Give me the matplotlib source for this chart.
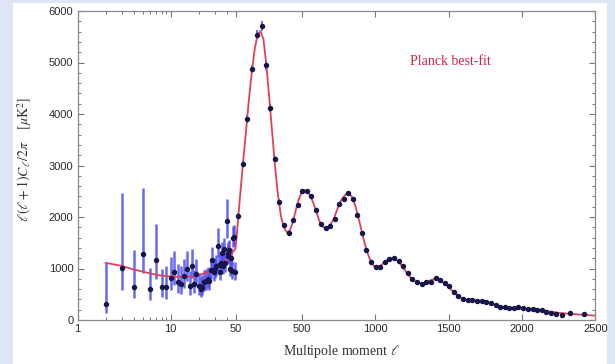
import numpy as np
import matplotlib
matplotlib.use("Agg")
import matplotlib.pyplot as plt
from matplotlib.patches import Rectangle
from matplotlib.ticker import FixedLocator, MultipleLocator

# low-l points (l = 2..49) with asymmetric error bars
ell_lo = list(range(2, 50))
D_lo = [305, 1005, 650, 1290, 605, 1170, 650, 650, 810, 935,
        730, 700, 850, 990, 660, 1050, 700, 890, 660, 600,
        650, 740, 760, 790, 750, 970, 1160, 930, 990, 1040,
        1430, 1070, 940, 1110, 1300, 1050, 1380, 1100, 1930, 1250,
        1300, 1350, 1000, 1200, 950, 1600, 1620, 930]
err_lo_down = [160, 420, 230, 380, 215, 380, 210, 240, 230, 250,
               200, 200, 220, 230, 180, 230, 180, 200, 170, 150,
               160, 170, 170, 170, 160, 180, 200, 170, 170, 180,
               200, 170, 160, 170, 180, 160, 180, 160, 330, 170,
               170, 170, 150, 160, 150, 180, 180, 150]
err_lo_up = [800, 1460, 710, 1280, 400, 700, 340, 400, 420, 400,
             360, 340, 330, 350, 300, 330, 280, 300, 260, 240,
             230, 240, 230, 230, 220, 230, 250, 220, 220, 220,
             350, 210, 200, 210, 220, 200, 220, 200, 420, 210,
             210, 210, 190, 200, 190, 220, 220, 190]

# binned high-l points
ell_hi = [69, 101, 131, 163, 195, 227, 259, 287, 318, 348,
          382, 412, 441, 473, 505, 537, 567, 599, 631, 663,
          694, 725, 756, 786, 817, 848, 880, 909, 941, 973,
          1003, 1035, 1067, 1096, 1128, 1160, 1190, 1222, 1254, 1286,
          1318, 1348, 1380, 1412, 1441, 1473, 1505, 1537, 1567, 1599,
          1631, 1663, 1693, 1725, 1757, 1789, 1821, 1850, 1882, 1915,
          1947, 1976, 2008, 2040, 2072, 2102, 2134, 2166, 2198, 2230,
          2270, 2324, 2423]
D_hi = [2019, 3036, 3903, 4874, 5540, 5709, 4945, 4123, 3126, 2291,
        1838, 1696, 1935, 2239, 2511, 2498, 2401, 2129, 1858, 1786,
        1825, 1968, 2252, 2350, 2472, 2350, 2039, 1689, 1366, 1120,
        1023, 1036, 1133, 1184, 1210, 1146, 1049, 906, 796, 744,
        693, 744, 744, 809, 783, 725, 667, 550, 472, 408,
        382, 382, 375, 375, 356, 324, 285, 259, 252, 233,
        239, 246, 227, 220, 214, 201, 188, 162, 136, 110,
        104, 129, 110]
err_hi = [50, 60, 70, 80, 90, 100, 90, 80, 60, 50,
          40, 40, 40, 40, 40, 40, 40, 40, 35, 35,
          35, 35, 35, 35, 35, 35, 35, 35, 30, 30,
          30, 30, 30, 30, 30, 30, 30, 30, 30, 30,
          25, 25, 25, 25, 25, 25, 25, 25, 25, 25,
          25, 25, 25, 25, 25, 25, 25, 25, 25, 25,
          25, 25, 25, 25, 25, 25, 25, 25, 25, 25,
          25, 25, 25]

# best-fit curve
ell_fit = [2, 3, 4, 5, 6, 7, 8, 10, 12, 15, 18, 20, 25, 30, 35, 40, 45, 50,
           60, 70, 80, 90, 100, 120, 140, 160, 180, 200, 220, 240, 260, 280,
           300, 320, 340, 360, 380, 400, 420, 440, 460, 480, 500, 520, 540,
           560, 580, 600, 620, 640, 660, 680, 700, 720, 740, 760, 780, 800,
           820, 840, 860, 880, 900, 920, 940, 960, 980, 1000, 1020, 1040,
           1060, 1080, 1100, 1120, 1140, 1160, 1180, 1200, 1220, 1240, 1260,
           1280, 1300, 1320, 1340, 1360, 1380, 1400, 1420, 1440, 1460, 1480,
           1500, 1520, 1540, 1560, 1580, 1600, 1620, 1640, 1660, 1680, 1700,
           1720, 1740, 1760, 1780, 1800, 1820, 1840, 1860, 1880, 1900, 1920,
           1940, 1960, 1980, 2000, 2050, 2100, 2150, 2200, 2250, 2300, 2350,
           2400, 2450, 2500]
D_fit = [1110, 1050, 980, 940, 905, 880, 862, 845, 838, 840, 850, 870, 925,
         1000, 1090, 1180, 1280, 1390,
         1700, 2050, 2380, 2700, 3020, 3620, 4250, 4790, 5250, 5540, 5610,
         5450, 4950, 4300, 3620, 2950, 2400, 2000, 1790, 1700, 1740, 1900,
         2130, 2340, 2480, 2520, 2490, 2410, 2270, 2100, 1930, 1820, 1780,
         1800, 1870, 1970, 2130, 2280, 2370, 2440, 2460, 2400, 2270, 2070,
         1830, 1590, 1380, 1210, 1090, 1030, 1030, 1060, 1110, 1160, 1190,
         1200, 1180, 1130, 1060, 980, 900, 830, 775, 740, 720, 715, 725, 750,
         775, 790, 790, 770, 735, 690, 640, 585, 530, 480, 440, 410, 390,
         380, 378, 378, 378, 373, 365, 350, 330, 310, 290, 272, 258, 248,
         240, 236, 234, 232, 230, 227, 215, 200, 180, 160, 140, 125, 115,
         105, 95, 85]

x_major = [1, 10, 50, 500, 1000, 1500, 2000, 2500]
x_minor = [2, 3, 4, 5, 6, 7, 8, 9, 20, 30, 40]

# axis is log from 1 to 50, linear from 50 to 2500
A = 0.305

def fwd(l):
    l = np.asarray(l, dtype=float)
    lo = np.log10(np.clip(l, 1e-3, None)) / np.log10(50) * A
    hi = A + (l - 50) / 2450 * (1 - A)
    return np.where(l <= 50, lo, hi)

def inv(u):
    u = np.asarray(u, dtype=float)
    lo = 10 ** (np.clip(u, -5, A) / A * np.log10(50))
    hi = 50 + (u - A) / (1 - A) * 2450
    return np.where(u <= A, lo, hi)

plt.rcParams['mathtext.fontset'] = 'stix'

fig = plt.figure(figsize=(6.15, 3.64), dpi=100, facecolor='#dce6f4')
fig.add_artist(Rectangle((13 / 615, 0), 594 / 615, 361 / 364,
                         transform=fig.transFigure, facecolor='white',
                         edgecolor='none', zorder=0))
ax = fig.add_axes([77.6 / 615, 44 / 364, 517.8 / 615, 309 / 364])
ax.set_facecolor('white')
ax.set_xscale('function', functions=(fwd, inv))

bar_col = '#4d4df2'
dot_col = '#16164a'
ax.errorbar(ell_lo, D_lo, yerr=[err_lo_down, err_lo_up], fmt='none',
            ecolor=bar_col, elinewidth=1.8, alpha=0.85, zorder=2)
ax.errorbar(ell_hi, D_hi, yerr=err_hi, fmt='none',
            ecolor=bar_col, elinewidth=1.2, zorder=2)
ax.plot(ell_fit, D_fit, color='#e0405a', lw=1.3, zorder=3)
ax.plot(ell_lo, D_lo, 'o', color=dot_col, ms=2.9, zorder=4)
ax.plot(ell_hi, D_hi, 'o', color=dot_col, ms=2.9, zorder=4)

ax.set_xlim(1, 2500)
ax.set_ylim(0, 6000)
ax.xaxis.set_major_locator(FixedLocator(x_major))
ax.xaxis.set_minor_locator(FixedLocator(x_minor))
ax.set_xticklabels([str(v) for v in x_major])
ax.yaxis.set_major_locator(MultipleLocator(1000))
ax.yaxis.set_minor_locator(MultipleLocator(200))

for s in ax.spines.values():
    s.set_color('#8a8a8a')
    s.set_linewidth(0.9)
ax.tick_params(which='both', direction='in', top=True, right=True,
               color='#777777', labelsize=8, labelcolor='#2a2a2a', pad=3)
ax.tick_params(which='major', length=4, width=0.8)
ax.tick_params(which='minor', length=2, width=0.7)
for lab in ax.get_xticklabels() + ax.get_yticklabels():
    lab.set_family('Liberation Sans')

ax.set_xlabel(r'Multipole moment $\ell$', family='Liberation Serif',
              fontsize=10, color='#333333')
ax.xaxis.set_label_coords(0.51, -0.075)
ax.set_ylabel(r'$\ell(\ell+1)C_\ell/2\pi\quad\ [\mu\mathrm{K}^2]$',
              fontsize=10, color='#333333')
ax.yaxis.set_label_coords(-0.085, 0.52)

ax.text(0.642, 0.835, 'Planck best-fit', transform=ax.transAxes,
        family='Liberation Serif', fontsize=10, color='#d8204a',
        ha='left', va='center')

fig.savefig('out.png', dpi=100, facecolor=fig.get_facecolor())
